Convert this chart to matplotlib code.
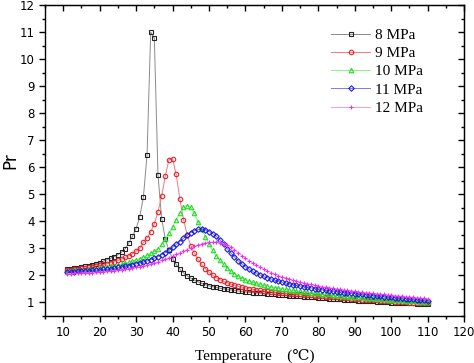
import numpy as np
import matplotlib.pyplot as plt
from matplotlib.ticker import MultipleLocator

# Temperature (deg C), one point per degree from 11 to 110
temperature = list(range(11, 111))

# Pr for each pressure
pr_8 = [2.22, 2.24, 2.26, 2.28, 2.31, 2.33, 2.36, 2.39, 2.43, 2.47,
        2.52, 2.57, 2.63, 2.69, 2.76, 2.86, 2.98, 3.20, 3.44, 3.73,
        4.17, 4.90, 6.45, 11.0, 10.77, 5.72, 4.10, 3.34, 2.92, 2.62,
        2.40, 2.22, 2.09, 1.98, 1.89, 1.82, 1.76, 1.70, 1.65, 1.61,
        1.58, 1.55, 1.52, 1.50, 1.48, 1.46, 1.44, 1.42, 1.40, 1.38,
        1.37, 1.36, 1.35, 1.34, 1.33, 1.32, 1.30, 1.29, 1.28, 1.27,
        1.26, 1.25, 1.24, 1.23, 1.22, 1.21, 1.20, 1.19, 1.18, 1.17,
        1.16, 1.15, 1.14, 1.13, 1.12, 1.11, 1.10, 1.09, 1.08, 1.07,
        1.06, 1.05, 1.04, 1.04, 1.03, 1.02, 1.01, 1.01, 1.00, 0.99,
        0.99, 0.98, 0.97, 0.97, 0.96, 0.96, 0.95, 0.94, 0.94, 0.93]
pr_9 = [2.19, 2.21, 2.22, 2.24, 2.26, 2.28, 2.30, 2.32, 2.35, 2.37,
        2.40, 2.43, 2.47, 2.51, 2.55, 2.60, 2.66, 2.72, 2.80, 2.89,
        3.00, 3.22, 3.38, 3.60, 3.91, 4.35, 4.92, 5.66, 6.28, 6.31,
        5.73, 4.82, 4.06, 3.50, 3.10, 2.81, 2.59, 2.40, 2.24, 2.11,
        2.00, 1.91, 1.84, 1.78, 1.72, 1.67, 1.63, 1.59, 1.56, 1.53,
        1.50, 1.48, 1.46, 1.44, 1.42, 1.40, 1.39, 1.37, 1.36, 1.35,
        1.33, 1.32, 1.31, 1.30, 1.29, 1.28, 1.27, 1.26, 1.25, 1.23,
        1.22, 1.21, 1.20, 1.19, 1.18, 1.17, 1.16, 1.15, 1.14, 1.12,
        1.11, 1.10, 1.09, 1.08, 1.07, 1.07, 1.06, 1.05, 1.04, 1.03,
        1.02, 1.02, 1.01, 1.00, 0.99, 0.99, 0.98, 0.97, 0.97, 0.96]
pr_10 = [2.16, 2.17, 2.18, 2.19, 2.20, 2.21, 2.22, 2.24, 2.25, 2.27,
         2.29, 2.31, 2.33, 2.35, 2.38, 2.41, 2.44, 2.48, 2.52, 2.57,
         2.62, 2.68, 2.74, 2.81, 2.89, 2.99, 3.15, 3.34, 3.56, 3.80,
         4.06, 4.32, 4.53, 4.58, 4.52, 4.29, 3.98, 3.70, 3.43, 3.16,
         2.92, 2.73, 2.55, 2.40, 2.27, 2.15, 2.05, 1.97, 1.90, 1.84,
         1.79, 1.74, 1.70, 1.66, 1.63, 1.60, 1.57, 1.54, 1.52, 1.50,
         1.48, 1.46, 1.44, 1.42, 1.41, 1.39, 1.37, 1.36, 1.34, 1.33,
         1.31, 1.30, 1.29, 1.27, 1.26, 1.25, 1.24, 1.22, 1.21, 1.20,
         1.19, 1.18, 1.17, 1.16, 1.15, 1.13, 1.12, 1.11, 1.10, 1.09,
         1.08, 1.08, 1.07, 1.06, 1.05, 1.04, 1.03, 1.02, 1.01, 1.00]
pr_11 = [2.12, 2.13, 2.13, 2.14, 2.15, 2.16, 2.17, 2.18, 2.19, 2.20,
         2.22, 2.23, 2.25, 2.27, 2.29, 2.31, 2.33, 2.36, 2.39, 2.42,
         2.45, 2.49, 2.53, 2.58, 2.63, 2.69, 2.76, 2.84, 2.93, 3.03,
         3.14, 3.25, 3.37, 3.48, 3.58, 3.65, 3.70, 3.71, 3.68, 3.62,
         3.54, 3.44, 3.31, 3.16, 2.99, 2.83, 2.68, 2.54, 2.42, 2.31,
         2.22, 2.14, 2.07, 2.01, 1.96, 1.91, 1.86, 1.82, 1.78, 1.74,
         1.71, 1.68, 1.65, 1.63, 1.60, 1.58, 1.55, 1.53, 1.51, 1.48,
         1.46, 1.44, 1.43, 1.41, 1.39, 1.38, 1.36, 1.35, 1.33, 1.32,
         1.30, 1.29, 1.28, 1.26, 1.25, 1.24, 1.22, 1.21, 1.20, 1.19,
         1.17, 1.16, 1.15, 1.14, 1.13, 1.11, 1.10, 1.09, 1.07, 1.06]
pr_12 = [2.06, 2.06, 2.07, 2.07, 2.08, 2.09, 2.09, 2.10, 2.11, 2.12,
         2.13, 2.14, 2.15, 2.17, 2.18, 2.20, 2.22, 2.24, 2.26, 2.29,
         2.32, 2.35, 2.38, 2.42, 2.46, 2.50, 2.55, 2.60, 2.65, 2.71,
         2.77, 2.83, 2.89, 2.95, 3.01, 3.07, 3.12, 3.16, 3.19, 3.22,
         3.23, 3.23, 3.21, 3.17, 3.11, 3.04, 2.94, 2.83, 2.73, 2.63,
         2.54, 2.46, 2.38, 2.30, 2.23, 2.16, 2.10, 2.04, 1.99, 1.94,
         1.90, 1.86, 1.82, 1.78, 1.75, 1.72, 1.69, 1.66, 1.63, 1.61,
         1.58, 1.56, 1.54, 1.52, 1.50, 1.48, 1.46, 1.44, 1.42, 1.40,
         1.39, 1.37, 1.36, 1.34, 1.33, 1.31, 1.30, 1.29, 1.27, 1.26,
         1.25, 1.23, 1.22, 1.21, 1.20, 1.18, 1.17, 1.16, 1.15, 1.13]

labels = ['8 MPa', '9 MPa', '10 MPa', '11 MPa', '12 MPa']
series = [pr_8, pr_9, pr_10, pr_11, pr_12]
colors = ['#222222', '#e8202a', '#22dd22', '#1a1adc', '#ee30ee']
line_colors = ['#8a8a8a', '#ee7a80', '#8aee8a', '#7a7aee', '#f29af2']
markers = ['s', 'o', '^', 'D', '+']

fig = plt.figure(figsize=(4.74, 3.63), dpi=100)
ax = fig.add_axes([0.095, 0.13, 0.884, 0.856])

for y, lab, c, lc, m in zip(series, labels, colors, line_colors, markers):
    ax.plot(temperature, y, color=lc, lw=0.7, marker=m, markersize=3.2 if m != 'D' else 2.8,
            markerfacecolor='none', markeredgecolor=c, markeredgewidth=0.8, label=lab)

ax.set_xlim(5, 120)
ax.set_ylim(0.5, 12)
ax.set_xticks(range(10, 121, 10))
ax.set_yticks(range(1, 13))
ax.xaxis.set_minor_locator(MultipleLocator(5))
ax.yaxis.set_minor_locator(MultipleLocator(0.5))

ax.tick_params(axis='both', which='major', labelsize=8.5, length=4, width=1, direction='out')
ax.tick_params(axis='both', which='minor', length=2.5, width=1, direction='out')
for sp in ax.spines.values():
    sp.set_linewidth(1)

# ticks on top and right point inward
ax_top = ax.secondary_xaxis('top')
ax_top.set_xticks(range(10, 121, 10))
ax_top.xaxis.set_minor_locator(MultipleLocator(5))
ax_top.tick_params(which='major', direction='in', length=4, width=1, labeltop=False)
ax_top.tick_params(which='minor', direction='in', length=2.5, width=1)
ax_right = ax.secondary_yaxis('right')
ax_right.set_yticks(range(1, 13))
ax_right.yaxis.set_minor_locator(MultipleLocator(0.5))
ax_right.tick_params(which='major', direction='in', length=4, width=1, labelright=False)
ax_right.tick_params(which='minor', direction='in', length=2.5, width=1)

ax.set_xlabel('Temperature    (\u2103)', family=['Liberation Serif', 'DejaVu Serif'], fontsize=11, labelpad=7)
ax.set_ylabel('Pr', fontsize=12)
ax.yaxis.set_label_coords(-0.062, 0.5)

leg = ax.legend(loc='upper right', bbox_to_anchor=(0.935, 0.97), frameon=False, handlelength=2.6,
                handletextpad=0.3, labelspacing=0.3, prop={'family': 'Liberation Serif', 'size': 11})

fig.savefig('out.png', dpi=100)
